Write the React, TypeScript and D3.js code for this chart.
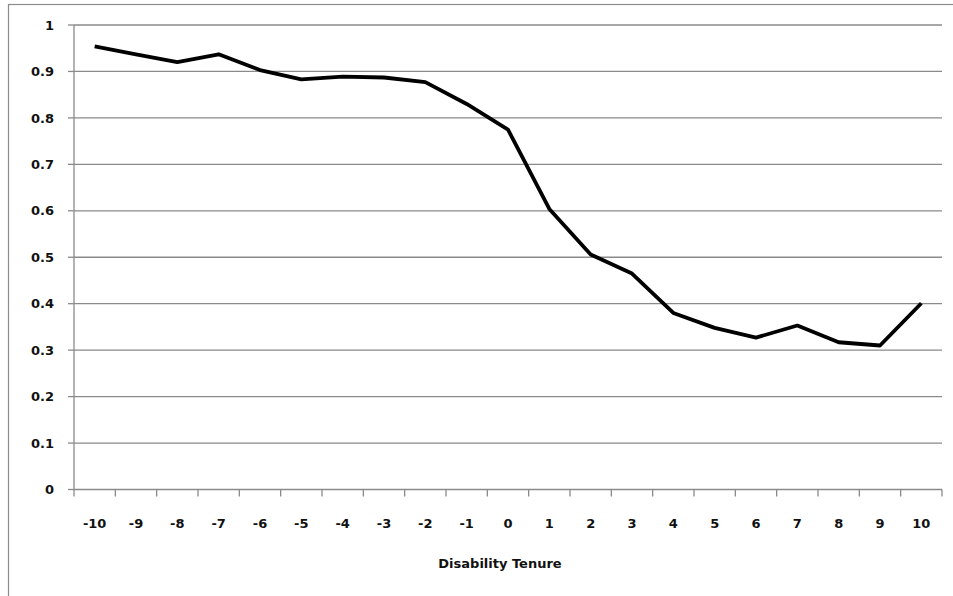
import React from "react";
import * as d3 from "d3";

const categories = ["-10","-9","-8","-7","-6","-5","-4","-3","-2","-1","0","1","2","3","4","5","6","7","8","9","10"];
const values = [0.954,0.937,0.920,0.937,0.903,0.883,0.889,0.887,0.877,0.830,0.775,0.604,0.506,0.465,0.380,0.348,0.327,0.353,0.317,0.310,0.401];
const yTicks = [0,0.1,0.2,0.3,0.4,0.5,0.6,0.7,0.8,0.9,1];
const yTickLabels = ["0","0.1","0.2","0.3","0.4","0.5","0.6","0.7","0.8","0.9","1"];
const xTitle = "Disability Tenure";

const W = 953, H = 596;
const left = 74, right = 942, top = 25, bottom = 489.5;

export default function App() {
  const x = d3.scaleBand<string>().domain(categories).range([left, right]).padding(0);
  const y = d3.scaleLinear().domain([0, 1]).range([bottom, top]);
  const line = d3.line<number>()
    .x((_, i) => (x(categories[i]) as number) + x.bandwidth() / 2)
    .y((d) => y(d));
  const boundaries = categories.map((c) => x(c) as number).concat([right]);
  const font = "'DejaVu Sans', Verdana, sans-serif";
  return (
    <svg width={W} height={H} style={{ position: "absolute", left: 0, top: 0 }}>
      <rect x={0} y={0} width={W} height={H} fill="#fff" />
      <rect x={8.5} y={4.5} width={W + 10} height={H + 10} fill="none" stroke="#8c8c8c" strokeWidth={1.2} />
      {yTicks.map((t, i) => (
        <g key={i}>
          {t > 0 && (
            <line x1={left} x2={right} y1={y(t)} y2={y(t)} stroke="#8a8a8a" strokeWidth={1.3} />
          )}
          <line x1={left - 6} x2={left} y1={y(t)} y2={y(t)} stroke="#8a8a8a" strokeWidth={1.3} />
          <text x={54} y={y(t)} dy="0.36em" textAnchor="end" fontFamily={font} fontWeight="bold" fontSize={13} fill="#111">
            {yTickLabels[i]}
          </text>
        </g>
      ))}
      <line x1={left} x2={left} y1={top} y2={bottom} stroke="#8a8a8a" strokeWidth={1.3} />
      <line x1={left} x2={right} y1={bottom} y2={bottom} stroke="#8a8a8a" strokeWidth={1.3} />
      {boundaries.map((b, i) => (
        <line key={i} x1={b} x2={b} y1={bottom} y2={bottom + 7} stroke="#8a8a8a" strokeWidth={1.3} />
      ))}
      {categories.map((c) => (
        <text key={c} x={(x(c) as number) + x.bandwidth() / 2} y={523} dy="0.36em" textAnchor="middle" fontFamily={font} fontWeight="bold" fontSize={13} fill="#111">
          {c}
        </text>
      ))}
      <text x={500} y={563} dy="0.36em" textAnchor="middle" fontFamily={font} fontWeight="bold" fontSize={13} fill="#111">
        {xTitle}
      </text>
      <path d={line(values) || ""} fill="none" stroke="#000" strokeWidth={3.8} strokeLinejoin="round" />
    </svg>
  );
}
